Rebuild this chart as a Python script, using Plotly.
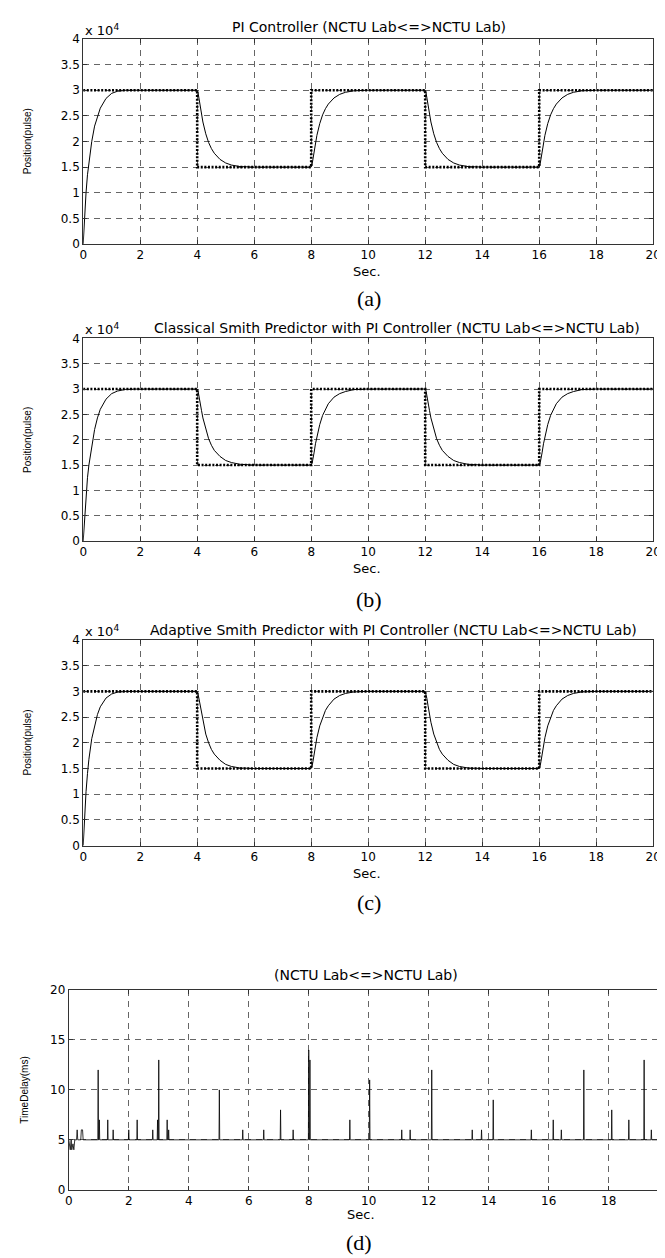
import plotly.graph_objects as go

# ---------------- data ----------------
step_t = [0, 4, 8, 12, 16, 20]
step_pos = [30000, 15000, 30000, 15000, 30000, 30000]

resp_t = [0, 0.03, 0.06, 0.1, 0.15, 0.2, 0.3, 0.4, 0.5, 0.6, 0.8, 1.0, 1.2, 1.5, 2.0,
          4.0, 4.03, 4.06, 4.1, 4.15, 4.2, 4.3, 4.4, 4.5, 4.6, 4.8, 5.0, 5.2, 5.5, 6.0,
          8.0, 8.03, 8.06, 8.1, 8.15, 8.2, 8.3, 8.4, 8.5, 8.6, 8.8, 9.0, 9.2, 9.5, 10.0,
          12.0, 12.03, 12.06, 12.1, 12.15, 12.2, 12.3, 12.4, 12.5, 12.6, 12.8, 13.0, 13.2, 13.5, 14.0,
          16.0, 16.03, 16.06, 16.1, 16.15, 16.2, 16.3, 16.4, 16.5, 16.6, 16.8, 17.0, 17.2, 17.5, 18.0,
          20.0]

pos_pi = [0, 3500, 6500, 10000, 13500, 16000, 20000, 23000, 25000, 26500, 28400, 29400, 29800, 30000, 30000,
          30000, 29500, 28500, 27000, 25200, 23800, 21500, 19800, 18600, 17700, 16500, 15800, 15400, 15100, 15000,
          15000, 15500, 16500, 18000, 19800, 21200, 23500, 25200, 26400, 27300, 28500, 29200, 29600, 29900, 30000,
          30000, 29500, 28500, 27000, 25200, 23800, 21500, 19800, 18600, 17700, 16500, 15800, 15400, 15100, 15000,
          15000, 15500, 16500, 18000, 19800, 21200, 23500, 25200, 26400, 27300, 28500, 29200, 29600, 29900, 30000,
          30000]

pos_classical = [0, 3000, 6000, 9000, 12500, 15000, 19000, 22000, 24300, 26000, 28000, 29100, 29600, 29950, 30000,
                 30000, 29600, 28800, 27500, 25800, 24300, 22000, 20200, 18900, 17900, 16700, 15900, 15500, 15150, 15000,
                 15000, 15300, 16000, 17400, 19200, 20700, 23000, 24800, 26100, 27100, 28400, 29100, 29500, 29900, 30000,
                 30000, 29600, 28800, 27500, 25800, 24300, 22000, 20200, 18900, 17900, 16700, 15900, 15500, 15150, 15000,
                 15000, 15300, 16000, 17400, 19200, 20700, 23000, 24800, 26100, 27100, 28400, 29100, 29500, 29900, 30000,
                 30000]

pos_adaptive = [0, 3800, 7000, 10500, 14000, 16800, 20800, 23500, 25500, 27000, 28700, 29500, 29850, 30000, 30000,
                30000, 29500, 28600, 27200, 25400, 24000, 21700, 20000, 18700, 17800, 16600, 15800, 15400, 15100, 15000,
                15000, 15400, 16300, 17800, 19600, 21000, 23300, 25000, 26300, 27200, 28500, 29200, 29600, 29900, 30000,
                30000, 29500, 28600, 27200, 25400, 24000, 21700, 20000, 18700, 17800, 16600, 15800, 15400, 15100, 15000,
                15000, 15400, 16300, 17800, 19600, 21000, 23300, 25000, 26300, 27200, 28500, 29200, 29600, 29900, 30000,
                30000]

# time-delay record: start-up samples, then single-sample spikes above the 5 ms floor
delay_start_t = [0, 0.05, 0.08, 0.1, 0.14, 0.17, 0.2, 0.26, 0.28, 0.3, 0.4, 0.42, 0.46, 0.48]
delay_start_ms = [5, 4, 5, 4, 4.6, 4, 5, 5, 6, 5, 5, 6, 6, 5]
delay_floor_ms = 5
spike_t = [0.98, 1.02, 1.3, 1.48, 2.0, 2.28, 2.8, 2.96, 3.0, 3.28, 3.33, 5.02, 5.8, 6.5, 7.06, 7.48,
           8.0, 8.04, 9.37, 10.03, 11.1, 11.38, 12.1, 13.45, 13.76, 14.15, 15.42, 16.15, 16.42,
           17.17, 18.1, 18.67, 19.18, 19.42]
spike_ms = [12, 7, 7, 6, 6, 7, 6, 7, 13, 7, 6, 10, 6, 6, 8, 6,
            14, 13, 7, 11, 6, 6, 12, 6, 6, 9, 6, 7, 6,
            12, 8, 7, 13, 6]
delay_end_t = 20

x_ticks = list(range(0, 21, 2))
pos_ticks = [0, 5000, 10000, 15000, 20000, 25000, 30000, 35000, 40000]
pos_tick_text = ["0", "0.5", "1", "1.5", "2", "2.5", "3", "3.5", "4"]
delay_ticks = [0, 5, 10, 15, 20]

titles = ["PI Controller (NCTU Lab&lt;=&gt;NCTU Lab)",
          "Classical Smith Predictor with PI Controller (NCTU Lab&lt;=&gt;NCTU Lab)",
          "Adaptive Smith Predictor with PI Controller (NCTU Lab&lt;=&gt;NCTU Lab)",
          "(NCTU Lab&lt;=&gt;NCTU Lab)"]
captions = ["(a)", "(b)", "(c)", "(d)"]

# ---------------- build delay series ----------------
d_t = list(delay_start_t)
d_ms = list(delay_start_ms)
for t, v in zip(spike_t, spike_ms):
    d_t += [t - 0.012, t, t + 0.012]
    d_ms += [delay_floor_ms, v, delay_floor_ms]
d_t.append(delay_end_t)
d_ms.append(delay_floor_ms)

W, H = 665, 1258
# pixel geometry: left, right, top, bottom
geo = [
    (72.5, 653, 24.3, 231.5),
    (72.5, 653, 327, 532),
    (72.5, 653, 632, 840),
    (57.8, 665, 986, 1188),
]

fig = go.Figure()
resp_sets = [pos_pi, pos_classical, pos_adaptive]
for i in range(3):
    xa = "x" if i == 0 else f"x{i+1}"
    ya = "y" if i == 0 else f"y{i+1}"
    fig.add_trace(go.Scatter(x=resp_t, y=resp_sets[i], mode="lines",
                             line=dict(color="black", width=1), xaxis=xa, yaxis=ya,
                             showlegend=False, hoverinfo="skip"))
    fig.add_trace(go.Scatter(x=step_t, y=step_pos, mode="lines", line_shape="hv",
                             line=dict(color="black", width=2.6, dash="2px,1.6px"),
                             xaxis=xa, yaxis=ya, showlegend=False, hoverinfo="skip"))
fig.add_trace(go.Scatter(x=d_t, y=d_ms, mode="lines", line=dict(color="black", width=0.8),
                         xaxis="x4", yaxis="y4", showlegend=False, hoverinfo="skip"))

tickfont = dict(family="DejaVu Sans", size=12, color="black")
common = dict(showline=True, linecolor="#333", linewidth=1, mirror="allticks",
              ticks="inside", ticklen=4, tickcolor="#333",
              showgrid=True, gridcolor="#666", gridwidth=1, griddash="6px,5px",
              zeroline=False, tickfont=tickfont)

layout = dict(width=W, height=H, autosize=False, margin=dict(l=0, r=0, t=0, b=0),
              paper_bgcolor="white", plot_bgcolor="white", showlegend=False)

annotations = []
for i, (l, r, t, b) in enumerate(geo):
    sx = "" if i == 0 else str(i + 1)
    xdom = [l / W, min(r / W, 1.0)]
    ydom = [1 - b / H, 1 - t / H]
    if i < 3:
        layout["xaxis" + sx] = dict(domain=xdom, range=[0, 20], tickvals=x_ticks,
                                    anchor="y" + sx, **common)
        layout["yaxis" + sx] = dict(domain=ydom, range=[0, 40000], tickvals=pos_ticks,
                                    ticktext=pos_tick_text, anchor="x" + sx, **common)
    else:
        xmax = (r - l) / 30.55
        layout["xaxis" + sx] = dict(domain=xdom, range=[0, xmax], tickvals=x_ticks,
                                    anchor="y" + sx, **common)
        layout["yaxis" + sx] = dict(domain=ydom, range=[0, 20], tickvals=delay_ticks,
                                    anchor="x" + sx, **common)

def ann(text, x, y, size, family="DejaVu Sans", xanchor="center", angle=0):
    annotations.append(dict(text=text, x=x / W, y=1 - y / H, xref="paper", yref="paper",
                            showarrow=False, xanchor=xanchor, yanchor="middle",
                            textangle=angle, font=dict(family=family, size=size, color="black")))

# titles and exponent labels
ann(titles[0], 364, 12, 14)
ann("x 10<sup>4</sup>", 72, 15, 13, xanchor="left")
ann("x 10<sup>4</sup>", 72, 318, 13, xanchor="left")
ann(titles[1], 392, 317, 14)
ann("x 10<sup>4</sup>", 72, 623, 13, xanchor="left")
ann(titles[2], 389, 622, 14)
ann(titles[3], 360, 971, 14)

# x titles
for y in (259, 560, 868):
    ann("Sec.", 362, y, 13)
ann("Sec.", 355, 1213, 13)

# y titles
for yc in (128, 430, 736):
    ann("Position(pulse)", 16, yc, 10, family="Liberation Sans", angle=-90)
ann("TimeDelay(ms)", 13, 1087, 10, family="Liberation Sans", angle=-90)

# captions
ann(captions[0], 364, 287, 22, family="Liberation Serif")
ann(captions[1], 364, 591, 22, family="Liberation Serif")
ann(captions[2], 364, 897, 22, family="Liberation Serif")
ann(captions[3], 353, 1241, 22, family="Liberation Serif")

layout["annotations"] = annotations
fig.update_layout(**layout)
fig.write_html("out.html")
